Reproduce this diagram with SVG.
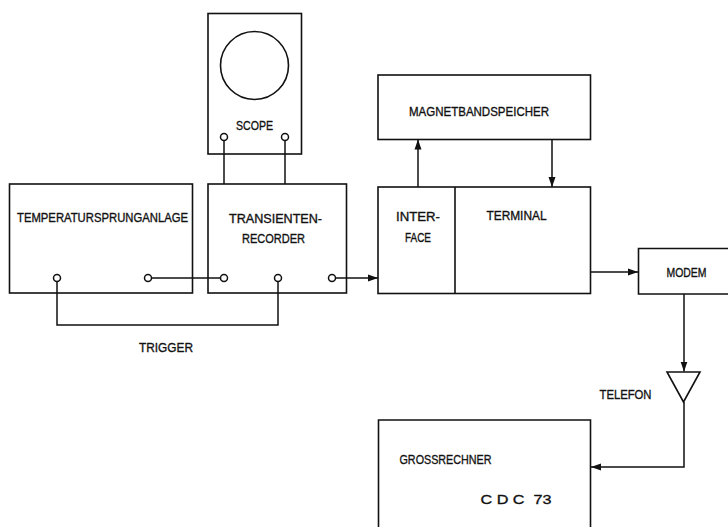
<svg xmlns="http://www.w3.org/2000/svg" width="728" height="527" viewBox="0 0 728 527">
<style>
.b{fill:none;stroke:#111;stroke-width:1.6}
.c{fill:none;stroke:#111;stroke-width:1.5}
.t{font-family:"Liberation Sans",Arial,sans-serif;font-size:13.5px;fill:#111;stroke:#111;stroke-width:0.35}
.p{fill:#fff;stroke:#111;stroke-width:1.5}
</style>
<defs>
<marker id="ah" viewBox="0 0 10 8" refX="10" refY="4" markerWidth="10" markerHeight="8" markerUnits="userSpaceOnUse" orient="auto">
<path d="M0,0.5 L10,4 L0,7.5 Z" fill="#111"/>
</marker>
</defs>
<rect width="728" height="527" fill="#fff"/>
<g id="connectors">
<path class="c" d="M224,137 V184"/>
<path class="c" d="M285,137 V184"/>
<path class="c" d="M148,278 H224"/>
<path class="c" d="M57,278 V325 H278 V278"/>
<path class="c" d="M332,278 H378" marker-end="url(#ah)"/>
<path class="c" d="M418,187 V139.5" marker-end="url(#ah)"/>
<path class="c" d="M552,139.5 V187" marker-end="url(#ah)"/>
<path class="c" d="M591,272 H638" marker-end="url(#ah)"/>
<path class="c" d="M684,294 V371.5" marker-end="url(#ah)"/>
<path class="c" d="M684,402 V467 H591" marker-end="url(#ah)"/>
</g>
<g id="scope">
<rect class="b" x="208" y="13.5" width="93.5" height="140.5"/>
<circle class="b" cx="254.5" cy="65.5" r="34"/>
<text class="t" x="254.5" y="130" text-anchor="middle" textLength="37" lengthAdjust="spacingAndGlyphs">SCOPE</text>
<circle class="p" cx="224" cy="137" r="3.5"/>
<circle class="p" cx="285" cy="137" r="3.5"/>
</g>
<g id="temperatur">
<rect class="b" x="9.5" y="184" width="183" height="109"/>
<text class="t" x="17" y="222" textLength="171" lengthAdjust="spacingAndGlyphs">TEMPERATURSPRUNGANLAGE</text>
<circle class="p" cx="57" cy="278" r="3.5"/>
<circle class="p" cx="148" cy="278" r="3.5"/>
</g>
<g id="transienten">
<rect class="b" x="208" y="184" width="138.5" height="109"/>
<text class="t" x="229" y="223" textLength="93" lengthAdjust="spacingAndGlyphs">TRANSIENTEN-</text>
<text class="t" x="242" y="243" textLength="63" lengthAdjust="spacingAndGlyphs">RECORDER</text>
<circle class="p" cx="224" cy="278" r="3.5"/>
<circle class="p" cx="278" cy="278" r="3.5"/>
<circle class="p" cx="332" cy="278" r="3.5"/>
</g>
<text class="t" x="139" y="352" textLength="54" lengthAdjust="spacingAndGlyphs">TRIGGER</text>
<g id="magnetband">
<rect class="b" x="378" y="75" width="212.5" height="64.5"/>
<text class="t" x="409" y="116" textLength="140" lengthAdjust="spacingAndGlyphs">MAGNETBANDSPEICHER</text>
</g>
<g id="interface-terminal">
<rect class="b" x="378" y="187" width="212.5" height="106.5"/>
<path class="b" d="M455,187 V293.5"/>
<text class="t" x="396" y="221" textLength="44" lengthAdjust="spacingAndGlyphs">INTER-</text>
<text class="t" x="405" y="242" textLength="26" lengthAdjust="spacingAndGlyphs">FACE</text>
<text class="t" x="486.5" y="220" textLength="60" lengthAdjust="spacingAndGlyphs">TERMINAL</text>
</g>
<g id="modem">
<path class="b" d="M730,248.5 H638.5 V294 H730"/>
<text class="t" x="666.5" y="277" textLength="40" lengthAdjust="spacingAndGlyphs">MODEM</text>
</g>
<g id="telefon">
<path class="b" d="M667,372 H700 L683.5,402 Z"/>
<text class="t" x="599.5" y="398.5" textLength="52" lengthAdjust="spacingAndGlyphs">TELEFON</text>
</g>
<g id="grossrechner">
<path class="b" d="M378.5,530 V420 H590.5 V530"/>
<text class="t" x="399.5" y="463.5" textLength="92" lengthAdjust="spacingAndGlyphs">GROSSRECHNER</text>
<text class="t" x="480.5" y="503.5" textLength="71" lengthAdjust="spacingAndGlyphs" xml:space="preserve">C D C  73</text>
</g>
</svg>
